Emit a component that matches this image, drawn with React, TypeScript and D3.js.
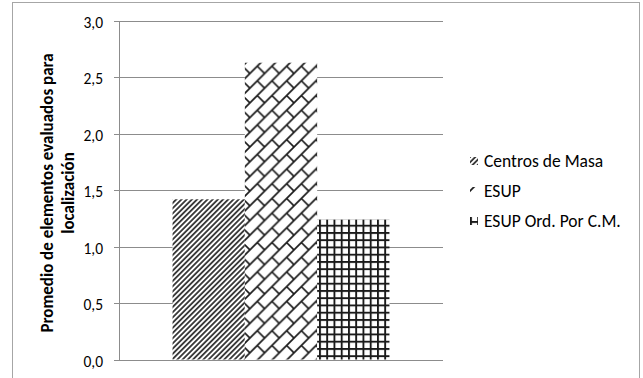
import React from "react";
import * as d3 from "d3";

const categories = [""];
const seriesNames = ["Centros de Masa", "ESUP", "ESUP Ord. Por C.M."];
const seriesValues = [1.42, 2.63, 1.24];
const yTicks = [0, 0.5, 1.0, 1.5, 2.0, 2.5, 3.0];
const yTitleLines = ["Promedio de elementos evaluados para", "localización"];
const patternIds = ["pDiag", "pBrick", "pGrid"];

const W = 643;
const H = 378;
const FONT = "Carlito, Lato, 'Open Sans', sans-serif";

export default function App() {
  const plotLeft = 119;
  const plotRight = 443;
  const plotTop = 21;
  const plotBottom = 359.5;

  const y = d3.scaleLinear().domain([0, 3]).range([plotBottom, plotTop]);
  const x0 = d3
    .scaleBand<string>()
    .domain(categories)
    .range([plotLeft, plotRight])
    .paddingInner(0.198)
    .paddingOuter(0.198);
  const x1 = d3
    .scaleBand<string>()
    .domain(seriesNames)
    .range([0, x0.bandwidth()])
    .padding(0);

  const fmt = (v: number) => d3.format(".1f")(v).replace(".", ",");
  const S = 14.7;
  const G = 7.25;
  const D = 5.2;
  const ink = "#1a1a1a";

  return (
    <svg
      width={W}
      height={H}
      style={{ position: "absolute", left: 0, top: 0, background: "#fff" }}
      fontFamily={FONT}
    >
      <defs>
        <pattern
          id="pDiag"
          patternUnits="userSpaceOnUse"
          width={D / Math.SQRT2}
          height={10}
          patternTransform="rotate(45)"
        >
          <rect width={D / Math.SQRT2} height={10} fill="#fff" />
          <rect x={0} width={D / Math.SQRT2 / 2} height={10} fill="#3a3a3a" />
        </pattern>
        <pattern id="pBrick" patternUnits="userSpaceOnUse" width={S} height={S}>
          <rect width={S} height={S} fill="#fff" />
          <path
            d={`M0,${S} L${S},0 M-2,2 L2,-2 M${S - 2},${S + 2} L${S + 2},${S - 2} M${S / 2},${S / 2} L${S},${S}`}
            stroke={ink}
            strokeWidth={1.7}
            fill="none"
          />
        </pattern>
        <pattern id="pGrid" patternUnits="userSpaceOnUse" width={G} height={G}>
          <rect width={G} height={G} fill="#fff" />
          <rect x={0} y={0} width={1.9} height={G} fill={ink} />
          <rect x={0} y={0} width={G} height={1.9} fill={ink} />
        </pattern>
      </defs>

      {/* outer chart border */}
      <rect x={12.5} y={2.5} width={627} height={400} fill="none" stroke="#a6a6a6" strokeWidth={1} />

      {/* gridlines */}
      {yTicks.map((t) => (
        <line
          key={"g" + t}
          x1={plotLeft - 5}
          x2={plotRight}
          y1={Math.round(y(t)) + 0.5}
          y2={Math.round(y(t)) + 0.5}
          stroke="#8c8c8c"
          strokeWidth={1}
        />
      ))}
      {/* y axis line */}
      <line
        x1={plotLeft + 0.5}
        x2={plotLeft + 0.5}
        y1={Math.round(y(3)) + 0.5}
        y2={Math.round(y(0)) + 0.5}
        stroke="#8c8c8c"
      />

      {/* tick labels */}
      {yTicks.map((t) => (
        <text
          key={"t" + t}
          x={plotLeft - 16}
          y={y(t) + 1.5}
          textAnchor="end"
          dominantBaseline="central"
          fontSize={15.5}
          fill="#000"
        >
          {fmt(t)}
        </text>
      ))}

      {/* bars */}
      {categories.map((c) =>
        seriesNames.map((s, i) => (
          <rect
            key={c + s}
            x={(x0(c) ?? 0) + (x1(s) ?? 0)}
            y={y(seriesValues[i])}
            width={x1.bandwidth()}
            height={y(0) - y(seriesValues[i])}
            fill={`url(#${patternIds[i]})`}
          />
        ))
      )}

      {/* y title */}
      <g transform="translate(0,193) rotate(-90)">
        {yTitleLines.map((l, i) => (
          <text
            key={l}
            x={0}
            y={47 + i * 21.6}
            textAnchor="middle"
            dominantBaseline="central"
            fontSize={17}
            fontWeight="bold"
            fill="#000"
          >
            {l}
          </text>
        ))}
      </g>

      {/* legend */}
      {seriesNames.map((s, i) => (
        <g key={"l" + s} transform={`translate(470,${161 + i * 30})`}>
          <rect x={0} y={-4} width={8} height={8} fill={`url(#${patternIds[i]})`} />
          <text x={14} y={0} dominantBaseline="central" fontSize={17.5} fill="#000">
            {s}
          </text>
        </g>
      ))}
    </svg>
  );
}
